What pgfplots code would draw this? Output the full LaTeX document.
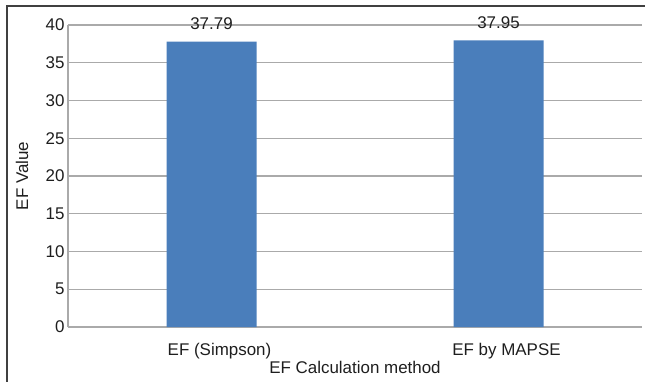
\documentclass[border=0pt]{standalone}
\usepackage{pgfplots}
\pgfplotsset{compat=1.18}
\usepackage{fontspec}
\setmainfont{Liberation Sans}
\definecolor{barblue}{RGB}{74,126,187}
\definecolor{gridgray}{RGB}{170,170,170}
\definecolor{framegray}{RGB}{64,64,64}
\definecolor{txt}{RGB}{30,30,30}
\begin{document}
\begin{tikzpicture}[x=1bp,y=1bp]
\useasboundingbox (0,0) rectangle (645,381);
\draw[framegray, line width=1.2bp] (7,-10) -- (7,375) -- (660,375);
\begin{axis}[
  at={(68bp,54bp)}, anchor=south west,
  scale only axis, width=574bp, height=302bp,
  xmin=-0.5, xmax=1.5, ymin=0, ymax=40,
  xtick={0,1}, xticklabels={EF (Simpson), EF by MAPSE},
  ytick={0,5,...,40},
  axis x line*=bottom, axis y line*=left,
  axis line style={gridgray, line width=1.2bp, -},
  ymajorgrids, grid style={gridgray, line width=1.2bp},
  major tick length=0pt,
  font=\fontsize{17}{20}\selectfont,
  /pgf/number format/assume math mode=true,
  tick label style={txt},
  x tick label style={anchor=base, yshift=-28bp, xshift=8bp},
  y tick label style={anchor=east},
  xlabel={EF Calculation method},
  ylabel={EF Value},
  x label style={at={(axis description cs:0.5,0)}, anchor=base, yshift=-46bp, txt},
  y label style={at={(axis description cs:0,0.5)}, anchor=center, rotate=0, yshift=46bp, txt},
  nodes near coords, point meta=explicit symbolic,
  every node near coord/.append style={anchor=base, yshift=12.4bp, txt, font=\fontsize{17}{20}\selectfont},
]
\addplot[ybar, bar width=90bp, fill=barblue, draw=none] coordinates {(0,37.79) [37.79] (1,37.95) [37.95]};
\end{axis}
\end{tikzpicture}
\end{document}
